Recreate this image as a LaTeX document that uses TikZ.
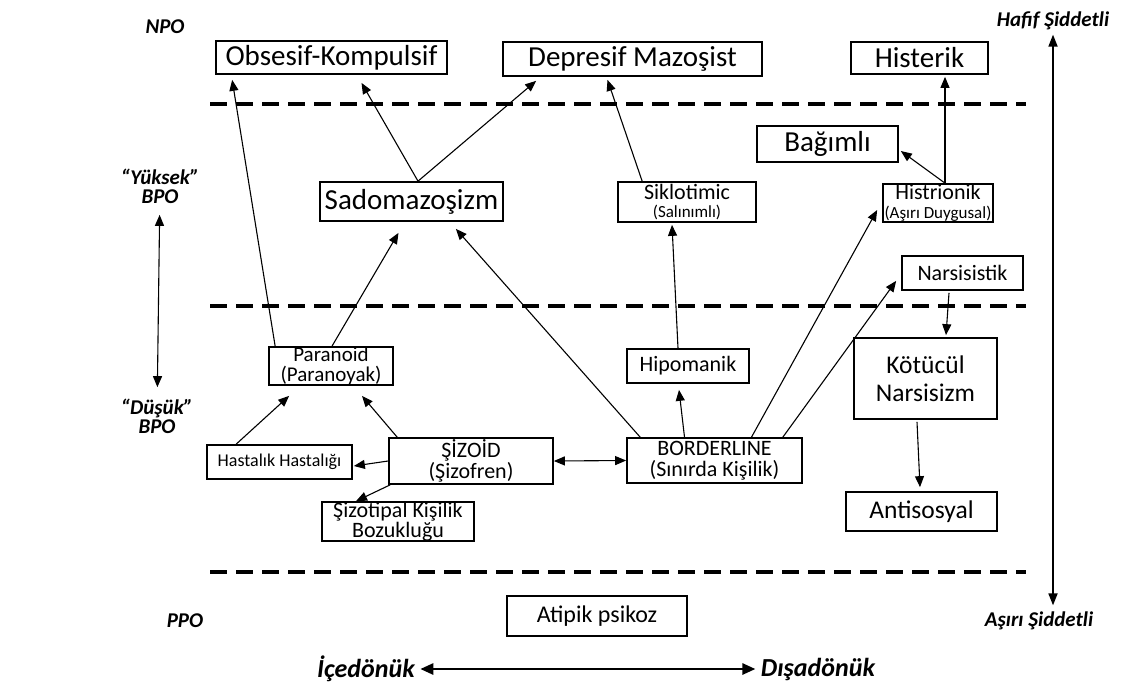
\documentclass[tikz,border=0pt]{standalone}
\usepackage{fontspec}
\setmainfont{Carlito}
\usetikzlibrary{arrows.meta}

\tikzstyle{block} = [draw, align = center, inner sep = 0pt, line width = 1.7pt]
\tikzstyle{big} = [block, font = \fontsize{29}{30}\selectfont]
\tikzstyle{mid} = [block, font = \fontsize{22}{18.5}\selectfont]
\tikzstyle{lbl} = [align = center, font = \bfseries\itshape\fontsize{21}{19}\selectfont]
\tikzstyle{conn} = [-{Triangle[length = 11pt, width = 9pt]}, line width = 1.1pt]
\tikzstyle{level} = [line width = 4pt, dash pattern = on 17pt off 9pt]

\begin{document}
\begin{tikzpicture}[x = 1pt, y = -1pt]
		\useasboundingbox (0, 0) rectangle (1121, 686);

		% organisation levels
		\coordinate (l1a) at (210, 104);
		\coordinate (l1b) at (1026, 104);
		\coordinate (l2a) at (210, 306);
		\coordinate (l2b) at (1026, 306);
		\coordinate (l3a) at (210, 572);
		\coordinate (l3b) at (1026, 572);
		\draw [level] (l1a) -- (l1b);
		\draw [level] (l2a) -- (l2b);
		\draw [level] (l3a) -- (l3b);

		% NPO
		\node [big, minimum width = 231pt, minimum height = 33pt] at (331.5, 57.5) (obs) {Obsesif-Kompulsif};
		\node [big, minimum width = 259pt, minimum height = 34pt] at (632.5, 59) (dep) {Depresif Mazoşist};
		\node [big, minimum width = 137pt, minimum height = 32pt] at (919.5, 58) (hist) {Histerik};

		% high BPO
		\node [big, minimum width = 141pt, minimum height = 36pt] at (827.5, 144) (bag) {Bağımlı};
		\node [big, minimum width = 183pt, minimum height = 39pt] at (411.5, 201.5) (sado) {Sadomazoşizm};
		\node [mid, minimum width = 138pt, minimum height = 40pt] at (687, 202) (sik) {Siklotimic\\{\fontsize{17}{17}\selectfont(Salınımlı)}};
		\node [mid, minimum width = 110pt, minimum height = 38pt] at (938, 203) (histr) {Histrionik\\{\fontsize{17}{17}\selectfont(Aşırı Duygusal)}};
		\node [mid, minimum width = 121pt, minimum height = 34pt] at (962.5, 273) (nar) {Narsisistik};

		% low BPO
		\node [mid, font = \fontsize{21}{20}\selectfont, minimum width = 124pt, minimum height = 38pt] at (331, 366) (par) {Paranoid\\(Paranoyak)};
		\node [mid, minimum width = 122pt, minimum height = 34pt] at (688, 366) (hipo) {Hipomanik};
		\node [block, font = \fontsize{25.5}{28}\selectfont, minimum width = 143pt, minimum height = 81pt] at (925.5, 378.5) (kot) {Kötücül\\Narsisizm};
		\node [block, font = \fontsize{18}{18}\selectfont, minimum width = 145pt, minimum height = 34pt] at (279.5, 462) (hast) {Hastalık Hastalığı};
		\node [mid, font = \fontsize{22}{21}\selectfont, minimum width = 164pt, minimum height = 46pt] at (471, 461) (siz) {ŞİZOİD\\(Şizofren)};
		\node [mid, font = \fontsize{22}{21}\selectfont, minimum width = 175pt, minimum height = 45pt] at (714.5, 460.5) (bord) {BORDERLINE\\(Sınırda Kişilik)};
		\node [mid, minimum width = 152pt, minimum height = 39pt] at (398, 521.5) (sizo) {Şizotipal Kişilik\\Bozukluğu};
		\node [block, font = \fontsize{25.5}{28}\selectfont, minimum width = 151pt, minimum height = 39pt] at (921.5, 511.5) (anti) {Antisosyal};

		% PPO
		\node [block, font = \fontsize{24}{24}\selectfont, minimum width = 180pt, minimum height = 40pt] at (597, 616) (atip) {Atipik psikoz};

		% side labels
		\node [lbl] at (165, 27) (npo) {NPO};
		\node [lbl] at (160, 186) (yuk) {“Yüksek”\\BPO};
		\node [lbl] at (157, 416) (dus) {“Düşük”\\BPO};
		\node [lbl] at (185, 621) (ppo) {PPO};
		\node [lbl] at (1053, 21) (hafif) {Hafif Şiddetli};
		\node [lbl] at (1039, 621) (asiri) {Aşırı Şiddetli};
		\node [lbl, font = \bfseries\itshape\fontsize{26}{26}\selectfont] at (366, 669) (ic) {İçedönük};
		\node [lbl, font = \bfseries\itshape\fontsize{26}{26}\selectfont] at (818, 669) (dis) {Dışadönük};

		\draw [{Triangle[length = 11pt, width = 9pt]}-{Triangle[length = 11pt, width = 9pt]}, line width = 1.1pt, shorten <= 8pt, shorten >= 8pt] (yuk) -- (dus);
		\draw [{Triangle[length = 12pt, width = 9pt]}-{Triangle[length = 12pt, width = 9pt]}, line width = 1.8pt, shorten <= 1pt, shorten >= 3pt] (hafif) -- (asiri.north -| hafif);
		\draw [{Triangle[length = 13pt, width = 11pt]}-{Triangle[length = 13pt, width = 11pt]}, line width = 2.6pt, shorten <= 2pt, shorten >= 2pt] (ic) -- (dis);

		% connections
		\draw [conn] ([xshift = 7pt]par.north west) -- ([xshift = 17pt, yshift = -5pt]obs.south west);
		\draw [conn] ([xshift = 6.5pt]sado.north) -- ([xshift = 30pt, yshift = -8pt]obs.south);
		\draw [conn] ([xshift = 6.5pt]sado.north) -- ([xshift = 34pt, yshift = -4pt]dep.south west);
		\draw [conn] ([xshift = 1pt]par.north) -- ([xshift = -13pt, yshift = -11pt]sado.south);
		\draw [conn] ([xshift = 25pt]sik.north west) -- ([xshift = -25pt, yshift = -3pt]dep.south);
		\draw [conn] ([xshift = -10pt]hipo.north) -- ([xshift = -15pt, yshift = -2pt]sik.south);
		\draw [conn] ([xshift = -30pt]bord.north) -- ([xshift = -9pt, yshift = -6pt]hipo.south);
		\draw [conn] ([xshift = 14pt]bord.north west) -- ([xshift = -48pt, yshift = -7pt]sado.south east);
		\draw [conn] ([xshift = 37pt]bord.north) -- ([xshift = -5pt, yshift = -7pt]histr.west);
		\draw [conn] ([xshift = -20pt]bord.north east) -- ([xshift = -5pt, yshift = 10pt]nar.south west);
		\draw [conn] ([xshift = 7pt]histr.north) -- ([xshift = 25.5pt, yshift = -2pt]hist.south);
		\draw [conn] ([xshift = 7pt]histr.north) -- ([xshift = 2pt, yshift = -7pt]bag.east);
		\draw [conn] ([xshift = -13.5pt, yshift = -2pt]nar.south) -- ([xshift = 20.5pt, yshift = 2pt]kot.north);
		\draw [conn] ([xshift = -8.5pt, yshift = -2pt]kot.south) -- ([xshift = -1.5pt, yshift = 4pt]anti.north);
		\draw [conn] ([xshift = 9pt]siz.north west) -- ([xshift = 31pt, yshift = -10pt]par.south);
		\draw [conn] ([xshift = 30pt]hast.north west) -- ([xshift = 21pt, yshift = -10pt]par.south west);
		\draw [conn] (siz.west) -- ([xshift = 1pt, yshift = -4pt]hast.east);
		\draw [conn] ([xshift = 2pt]siz.south west) -- ([xshift = -42pt]sizo.north);
		\draw [conn, {Triangle[length = 11pt, width = 9pt]}-{Triangle[length = 11pt, width = 9pt]}] (siz.east) -- (bord.west);
	\end{tikzpicture}
\end{document}
